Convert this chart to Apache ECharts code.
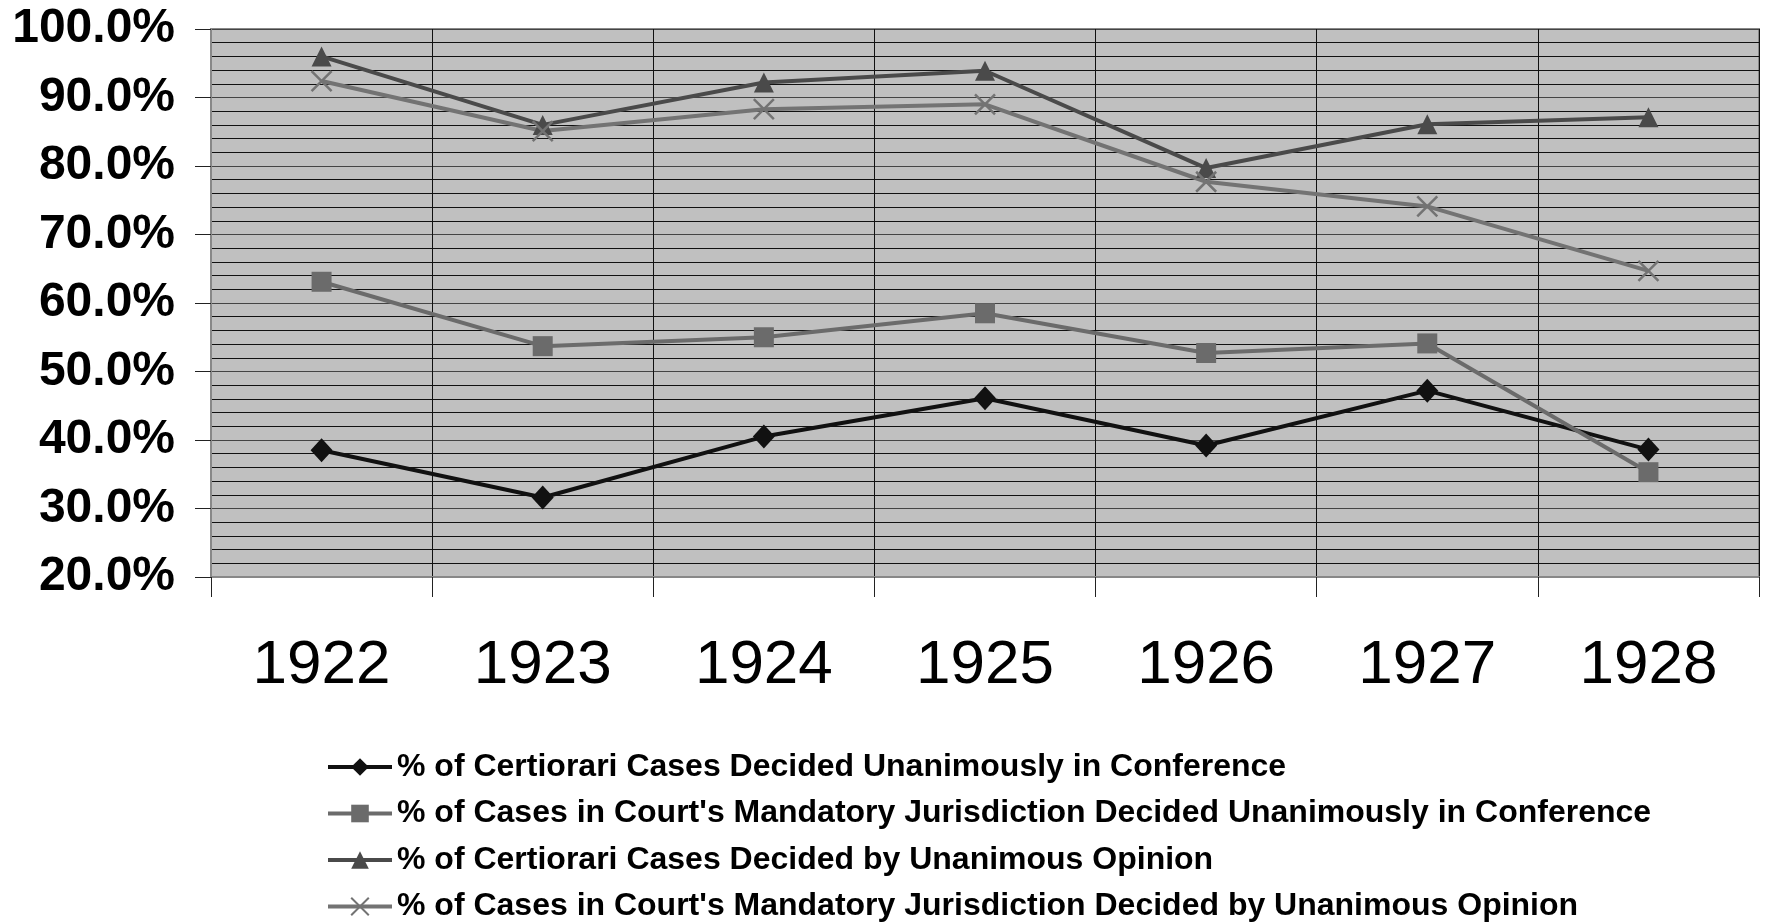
<!DOCTYPE html>
<html>
<head>
<meta charset="utf-8">
<script src="https://cdn.jsdelivr.net/npm/echarts@6/dist/echarts.min.js"></script>
<style>
  html, body { margin: 0; padding: 0; background: #ffffff; }
  #chart { width: 1769px; height: 923px; }
</style>
</head>
<body>
<div id="chart"></div>
<script>
// Term years on the category axis
const years = ['1922', '1923', '1924', '1925', '1926', '1927', '1928'];

// Percentages of cases decided unanimously (values in percent)
const certConference = [38.5, 31.6, 40.5, 46.1, 39.2, 47.2, 38.6];
const mandatoryConference = [63.1, 53.7, 55.0, 58.5, 52.7, 54.1, 35.3];
const certOpinion = [96.0, 86.0, 92.2, 93.9, 79.7, 86.1, 87.1];
const mandatoryOpinion = [92.4, 85.1, 88.3, 89.0, 77.7, 74.1, 64.7];

const seriesNames = [
  '% of Certiorari Cases Decided Unanimously in Conference',
  "% of Cases in Court's Mandatory Jurisdiction Decided Unanimously in Conference",
  '% of Certiorari Cases Decided by Unanimous Opinion',
  "% of Cases in Court's Mandatory Jurisdiction Decided by Unanimous Opinion"
];

const yMin = 20, yMax = 100, yStep = 10;

const FONT = "'Liberation Sans', Arial, Helvetica, sans-serif";
const crossPath = 'path://M0,0L10,10M10,0L0,10';

function lineSeries(name, data, color, symbol, size, extraItem) {
  return {
    name: name,
    type: 'line',
    data: data,
    symbol: symbol,
    symbolSize: size,
    showAllSymbol: true,
    lineStyle: { color: color, width: 4 },
    itemStyle: Object.assign({ color: color, borderWidth: 0 }, extraItem || {}),
    emphasis: { disabled: true },
    animation: false,
    z: 3
  };
}

const chart = echarts.init(document.getElementById('chart'), null, { renderer: 'canvas' });

chart.setOption({
  backgroundColor: '#ffffff',
  animation: false,
  grid: {
    left: 211, top: 29, right: 10, bottom: 346,
    show: true,
    backgroundColor: '#c0c0c0',
    borderColor: '#888888',
    borderWidth: 2
  },
  legend: {
    orient: 'vertical',
    left: 321,
    top: 746,
    height: 200,
    itemWidth: 64,
    itemHeight: 22,
    itemGap: 14.5,
    lineStyle: { width: 4 },
    textStyle: {
      fontFamily: FONT,
      fontSize: 32,
      fontWeight: 'bold',
      color: '#000000',
      lineHeight: 30
    },
    data: seriesNames
  },
  xAxis: {
    type: 'category',
    data: years,
    boundaryGap: true,
    axisLine: { show: true, lineStyle: { color: '#888888', width: 2 } },
    axisTick: { show: true, length: 20, lineStyle: { color: '#222222', width: 1 } },
    splitLine: { show: true, lineStyle: { color: '#111111', width: 1 } },
    axisLabel: {
      margin: 58,
      fontFamily: FONT,
      fontSize: 62,
      color: '#000000'
    }
  },
  yAxis: {
    type: 'value',
    min: yMin,
    max: yMax,
    interval: yStep,
    axisLine: { show: true, lineStyle: { color: '#888888', width: 2 } },
    axisTick: { show: true, inside: false, length: 16, lineStyle: { color: '#222222', width: 1 } },
    splitLine: { show: true, lineStyle: { color: '#444444', width: 1 } },
    minorTick: { show: false, splitNumber: 5 },
    minorSplitLine: { show: true, lineStyle: { color: '#111111', width: 1 } },
    axisLabel: {
      margin: 36,
      fontFamily: FONT,
      fontSize: 48,
      fontWeight: 'bold',
      color: '#000000',
      formatter: function (v) { return v.toFixed(1) + '%'; }
    }
  },
  series: [
    lineSeries(seriesNames[0], certConference, '#111111', 'diamond', [22, 24]),
    lineSeries(seriesNames[1], mandatoryConference, '#6b6b6b', 'rect', 20),
    lineSeries(seriesNames[2], certOpinion, '#4a4a4a', 'triangle', [20, 20]),
    lineSeries(seriesNames[3], mandatoryOpinion, '#737373', crossPath, 20,
      { color: 'none', borderColor: '#737373', borderWidth: 2.5 })
  ]
});
</script>
</body>
</html>
